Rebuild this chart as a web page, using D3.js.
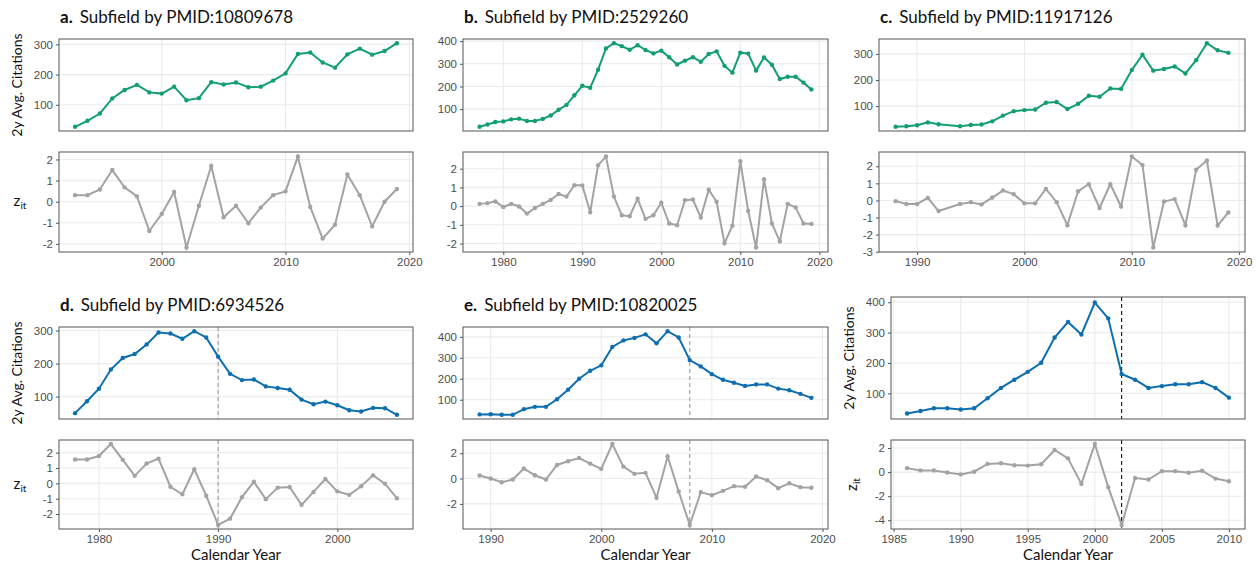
<!DOCTYPE html>
<html>
<head>
<meta charset="utf-8">
<script src="https://cdn.jsdelivr.net/npm/d3@7"></script>
<style>
body { margin: 0; background: #fff; }
svg { font-family: Lato, "Open Sans", sans-serif; }
</style>
</head>
<body>
<svg id="chart" width="1260" height="571"></svg>
<script>
// values, one set per panel
const yearsA = [1993,1994,1995,1996,1997,1998,1999,2000,2001,2002,2003,2004,2005,2006,2007,2008,2009,2010,2011,2012,2013,2014,2015,2016,2017,2018,2019]
const citesA = [27,47,71,121,149,166,141,137,160,115,122,175,167,174,158,160,180,204,268,273,240,223,267,286,266,278,304]
const zA = [0.31,0.31,0.58,1.5,0.68,0.25,-1.39,-0.58,0.46,-2.17,-0.19,1.69,-0.74,-0.19,-1.02,-0.28,0.31,0.49,2.14,-0.25,-1.75,-1.09,1.29,0.31,-1.17,0.0,0.6]

const yearsB = [1977,1978,1979,1980,1981,1982,1983,1984,1985,1986,1987,1988,1989,1990,1991,1992,1993,1994,1995,1996,1997,1998,1999,2000,2001,2002,2003,2004,2005,2006,2007,2008,2009,2010,2011,2012,2013,2014,2015,2016,2017,2018,2019]
const citesB = [22,32,43,46,55,58,48,48,57,72,97,119,161,203,194,274,368,391,378,362,382,361,346,358,329,297,314,329,309,343,355,291,261,349,345,270,328,296,233,243,243,217,187]
const zB = [0.12,0.16,0.25,-0.05,0.12,-0.02,-0.4,-0.1,0.12,0.33,0.65,0.51,1.12,1.11,-0.33,2.19,2.65,0.51,-0.49,-0.54,0.39,-0.68,-0.49,0.18,-0.93,-1.02,0.32,0.35,-0.61,0.88,0.23,-1.98,-1.05,2.4,-0.26,-2.21,1.44,-0.93,-1.88,0.12,-0.07,-0.93,-0.95]

// no 1993 point in this one
const yearsC = [1988,1989,1990,1991,1992,1994,1995,1996,1997,1998,1999,2000,2001,2002,2003,2004,2005,2006,2007,2008,2009,2010,2011,2012,2013,2014,2015,2016,2017,2018,2019]
const citesC = [21,23,27,38,31,23,28,30,42,64,81,85,87,113,116,89,109,140,136,168,166,238,297,236,242,252,225,276,341,314,304]
const zC = [-0.04,-0.21,-0.21,0.15,-0.62,-0.21,-0.1,-0.23,0.17,0.58,0.37,-0.17,-0.17,0.68,-0.1,-1.45,0.54,0.95,-0.44,0.95,-0.35,2.57,2.07,-2.75,-0.06,0.08,-1.45,1.8,2.34,-1.47,-0.7]

const yearsD = [1978,1979,1980,1981,1982,1983,1984,1985,1986,1987,1988,1989,1990,1991,1992,1993,1994,1995,1996,1997,1998,1999,2000,2001,2002,2003,2004,2005]
const citesD = [50,86,124,182,217,229,258,294,291,275,298,279,221,169,150,152,131,126,121,91,77,85,74,59,55,66,65,45]
const zD = [1.55,1.55,1.78,2.56,1.53,0.49,1.29,1.61,-0.22,-0.71,0.92,-0.8,-2.71,-2.3,-0.9,0.1,-1.03,-0.28,-0.24,-1.4,-0.56,0.28,-0.52,-0.75,-0.19,0.52,-0.02,-0.97]

const yearsE = [1989,1990,1991,1992,1993,1994,1995,1996,1997,1998,1999,2000,2001,2002,2003,2004,2005,2006,2007,2008,2009,2010,2011,2012,2013,2014,2015,2016,2017,2018,2019]
const citesE = [30,31,28,28,55,66,66,102,148,200,238,264,352,383,395,412,369,427,397,289,259,222,195,181,166,173,173,153,145,128,109]
const zE = [0.24,0,-0.29,-0.08,0.79,0.26,-0.08,1.07,1.36,1.62,1.18,0.76,2.72,0.94,0.37,0.45,-1.52,1.75,-1.02,-3.66,-1.07,-1.31,-0.97,-0.6,-0.65,0.16,-0.13,-0.76,-0.37,-0.68,-0.73]

const yearsF = [1986,1987,1988,1989,1990,1991,1992,1993,1994,1995,1996,1997,1998,1999,2000,2001,2002,2003,2004,2005,2006,2007,2008,2009,2010]
const citesF = [34,42,51,51,47,51,84,118,145,171,201,284,335,294,399,347,164,145,118,124,130,130,137,118,86]
const zF = [0.33,0.14,0.14,-0.03,-0.19,0.03,0.68,0.73,0.57,0.54,0.65,1.84,1.14,-0.98,2.33,-1.25,-4.39,-0.49,-0.62,0.08,0.08,-0.05,0.11,-0.54,-0.76]

// tick labels
const citeTicks3 = [100,200,300]
const citeTicks4 = [100,200,300,400]
const zTicksA = [-2,-1,0,1,2]
const zTicksC = [-3,-2,-1,0,1,2]
const zTicksE = [-2,0,2]
const zTicksF = [-4,-2,0,2]
const xTicksA = [2000,2010,2020]
const xTicksB = [1980,1990,2000,2010,2020]
const xTicksC = [1990,2000,2010,2020]
const xTicksD = [1980,1990,2000]
const xTicksF = [1985,1990,1995,2000,2005,2010]

const GREEN = "#119e73"
const BLUE = "#0e6fb0"
const GREY = "#a3a3a3"

const panels = [
  {letter: "a.", title: "Subfield by PMID:10809678", years: yearsA, cites: citesA, z: zA,
   color: GREEN, citeTicks: citeTicks3, zTicks: zTicksA, xTicks: xTicksA,
   left: 59, right: 413, top: [39, 131], bot: [152, 252], yLab: true, zRot: false, xLab: false},
  {letter: "b.", title: "Subfield by PMID:2529260", years: yearsB, cites: citesB, z: zB,
   color: GREEN, citeTicks: citeTicks4, zTicks: zTicksA, xTicks: xTicksB,
   left: 463, right: 828, top: [39, 131], bot: [152, 252], yLab: false, xLab: false},
  {letter: "c.", title: "Subfield by PMID:11917126", years: yearsC, cites: citesC, z: zC,
   color: GREEN, citeTicks: citeTicks3, zTicks: zTicksC, xTicks: xTicksC,
   left: 879, right: 1245, top: [39, 131], bot: [152, 252], yLab: false, xLab: false},
  {letter: "d.", title: "Subfield by PMID:6934526", years: yearsD, cites: citesD, z: zD,
   color: BLUE, citeTicks: citeTicks3, zTicks: zTicksA, xTicks: xTicksD, cut: 1990, cutColor: "#9a9a9a",
   left: 59, right: 413, top: [327, 419], bot: [440, 529], yLab: true, zRot: false, xLab: true},
  {letter: "e.", title: "Subfield by PMID:10820025", years: yearsE, cites: citesE, z: zE,
   color: BLUE, citeTicks: citeTicks4, zTicks: zTicksE, xTicks: xTicksC, cut: 2008, cutColor: "#9a9a9a",
   left: 463, right: 828, top: [327, 419], bot: [440, 529], yLab: false, xLab: true},
  {letter: "", title: "", years: yearsF, cites: citesF, z: zF,
   color: BLUE, citeTicks: citeTicks4, zTicks: zTicksF, xTicks: xTicksF, cut: 2002, cutColor: "#111",
   left: 891, right: 1245, top: [297, 419], bot: [440, 529], yLab: true, zRot: true, xLab: true}
]

const svg = d3.select("#chart")

// ggplot style 5% padding
function expand(ext) {
  const pad = (ext[1] - ext[0]) * 0.05
  return [ext[0] - pad, ext[1] + pad]
}

// plain hyphen for negatives, like the reference
const fmt = d => String(d)

function drawBox(p, x, vals, band, ticks, lineColor, showX) {
  const y = d3.scaleLinear().domain(expand(d3.extent(vals))).range([band[1], band[0]])
  const g = svg.append("g")

  // grid
  g.selectAll(".hg").data(ticks).enter().append("line")
    .attr("x1", p.left).attr("x2", p.right)
    .attr("y1", d => y(d)).attr("y2", d => y(d))
    .attr("stroke", "#ebebeb").attr("stroke-width", 1.1)
  g.selectAll(".vg").data(p.xTicks.filter(d => x(d) >= p.left && x(d) <= p.right)).enter().append("line")
    .attr("x1", d => x(d)).attr("x2", d => x(d))
    .attr("y1", band[0]).attr("y2", band[1])
    .attr("stroke", "#ebebeb").attr("stroke-width", 1.1)

  if(p.cut) {
    g.append("line")
      .attr("x1", x(p.cut)).attr("x2", x(p.cut))
      .attr("y1", band[0]).attr("y2", band[1])
      .attr("stroke", p.cutColor).attr("stroke-width", 1.1)
      .attr("stroke-dasharray", "4,3")
  }

  const line = d3.line().x((d, i) => x(p.years[i])).y(d => y(d))
  g.append("path").datum(vals)
    .attr("d", line).attr("fill", "none")
    .attr("stroke", lineColor).attr("stroke-width", 2)
  g.selectAll("circle").data(vals).enter().append("circle")
    .attr("cx", (d, i) => x(p.years[i])).attr("cy", d => y(d))
    .attr("r", 2.2).attr("fill", lineColor)

  g.append("rect")
    .attr("x", p.left).attr("y", band[0])
    .attr("width", p.right - p.left).attr("height", band[1] - band[0])
    .attr("fill", "none").attr("stroke", "#555").attr("stroke-width", 1)

  const ya = g.append("g").attr("transform", "translate(" + p.left + ",0)")
    .call(d3.axisLeft(y).tickValues(ticks).tickSize(3).tickPadding(3).tickFormat(fmt))
  ya.select(".domain").remove()
  ya.selectAll("line").attr("stroke", "#555")
  ya.selectAll("text").attr("fill", "#4d4d4d").style("font-size", "11.5px")

  if(showX) {
    const xa = g.append("g").attr("transform", "translate(0," + band[1] + ")")
      .call(d3.axisBottom(x).tickValues(p.xTicks).tickSize(3).tickPadding(3).tickFormat(fmt))
    xa.select(".domain").remove()
    xa.selectAll("line").attr("stroke", "#555")
    xa.selectAll("text").attr("fill", "#4d4d4d").style("font-size", "11.5px")
  }
}

panels.forEach(p => {
  const x = d3.scaleLinear().domain(expand(d3.extent(p.years))).range([p.left, p.right])
  drawBox(p, x, p.cites, p.top, p.citeTicks, p.color, false)
  drawBox(p, x, p.z, p.bot, p.zTicks, GREY, true)

  if(p.title) {
    const t = svg.append("text").attr("x", p.left + 1).attr("y", p.top[0] - 16)
      .style("font-size", "17px").attr("fill", "#111")
    t.append("tspan").attr("font-weight", "bold").text(p.letter)
    t.append("tspan").attr("dx", 7).text(p.title)
  }

  if(p.yLab) {
    const cy = (p.top[0] + p.top[1]) / 2
    svg.append("text")
      .attr("transform", "translate(" + (p.left - 37) + "," + cy + ")rotate(-90)")
      .attr("text-anchor", "middle").style("font-size", "14px").attr("fill", "#111")
      .text("2y Avg. Citations")
    const cz = (p.bot[0] + p.bot[1]) / 2
    const zt = svg.append("text").style("font-size", "15px").attr("fill", "#111")
      .attr("text-anchor", "middle")
    if(p.zRot) {
      zt.attr("transform", "translate(" + (p.left - 34) + "," + cz + ")rotate(-90)")
    } else {
      zt.attr("transform", "translate(" + (p.left - 39) + "," + (cz + 4) + ")")
    }
    zt.append("tspan").text("z")
    zt.append("tspan").attr("dy", 3).style("font-size", "10px").text("it")
  }

  if(p.xLab) {
    svg.append("text")
      .attr("x", (p.left + p.right) / 2).attr("y", p.bot[1] + 31)
      .attr("text-anchor", "middle").style("font-size", "15px").attr("fill", "#111")
      .text("Calendar Year")
  }
})
</script>
</body>
</html>
